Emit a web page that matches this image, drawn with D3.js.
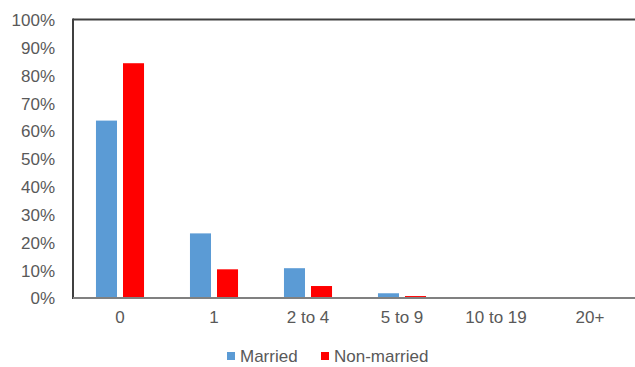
<!DOCTYPE html>
<html>
<head>
<meta charset="utf-8">
<script src="https://cdn.jsdelivr.net/npm/d3@7"></script>
<style>
  html, body { margin: 0; padding: 0; background: #fff; }
  svg { display: block; }
  text { font-family: "Liberation Sans", Arial, sans-serif; fill: #595959; }
</style>
</head>
<body>
<svg id="chart" width="635" height="367"></svg>
<script>
// Share of respondents by number of partners, married vs non-married
const categories = ["0", "1", "2 to 4", "5 to 9", "10 to 19", "20+"];
const seriesNames = ["Married", "Non-married"];
const married = [63.7, 23.2, 10.7, 1.7, 0, 0];
const nonMarried = [84.3, 10.3, 4.3, 0.7, 0, 0];
const yTicks = [0, 10, 20, 30, 40, 50, 60, 70, 80, 90, 100];
const colors = ["#5B9BD5", "#FF0000"];

const seriesValues = [married, nonMarried];
const rows = categories.map((c, i) => ({
  category: c,
  values: seriesNames.map((s, j) => ({ series: s, value: seriesValues[j][i], color: colors[j] }))
}));

const svg = d3.select("#chart");
const plotLeft = 73, plotRight = 637, plotTop = 19.5, plotBottom = 298;
const fontSize = "17px";

const x = d3.scaleBand().domain(categories).range([plotLeft, plotRight]).paddingInner(0).paddingOuter(0);
const x1 = d3.scaleBand().domain(seriesNames).range([0, x.bandwidth()])
  .paddingInner(0.222).paddingOuter(0.85);
const y = d3.scaleLinear().domain([0, 100]).range([plotBottom, plotTop]);

// bars
const groups = svg.append("g").selectAll("g").data(rows).join("g")
  .attr("transform", d => `translate(${x(d.category)},0)`);
groups.selectAll("rect").data(d => d.values).join("rect")
  .attr("x", d => x1(d.series))
  .attr("width", x1.bandwidth())
  .attr("y", d => y(d.value))
  .attr("height", d => plotBottom - y(d.value))
  .attr("fill", d => d.color);

// y axis labels
const yAxis = d3.axisLeft(y).tickValues(yTicks).tickFormat(d => d + "%").tickSize(0).tickPadding(18);
const gy = svg.append("g").attr("transform", `translate(${plotLeft},0)`).call(yAxis);
gy.select(".domain").remove();
gy.selectAll("text").style("font-size", fontSize).attr("dy", "0.35em");

// x axis labels
const xAxis = d3.axisBottom(x).tickSize(0).tickPadding(15);
const gx = svg.append("g").attr("transform", `translate(0,${plotBottom})`).call(xAxis);
gx.select(".domain").remove();
gx.selectAll("text").style("font-size", fontSize).attr("dy", "0.6em");

// frame lines
svg.append("line").attr("x1", plotLeft).attr("x2", plotRight).attr("y1", plotTop).attr("y2", plotTop)
  .attr("stroke", "#404040").attr("stroke-width", 2);
svg.append("line").attr("x1", plotLeft).attr("x2", plotLeft).attr("y1", plotTop - 1).attr("y2", plotBottom + 1)
  .attr("stroke", "#404040").attr("stroke-width", 2);
svg.append("line").attr("x1", plotLeft).attr("x2", plotRight).attr("y1", plotBottom).attr("y2", plotBottom)
  .attr("stroke", "#808080").attr("stroke-width", 2);

// legend
const legendItems = [
  { name: seriesNames[0], color: colors[0], x: 227 },
  { name: seriesNames[1], color: colors[1], x: 321 }
];
const lg = svg.append("g").selectAll("g").data(legendItems).join("g")
  .attr("transform", d => `translate(${d.x},352)`);
lg.append("rect").attr("width", 8).attr("height", 8).attr("fill", d => d.color);
lg.append("text").attr("x", 13).attr("y", 4).attr("dy", "0.35em")
  .style("font-size", fontSize).text(d => d.name);
</script>
</body>
</html>
